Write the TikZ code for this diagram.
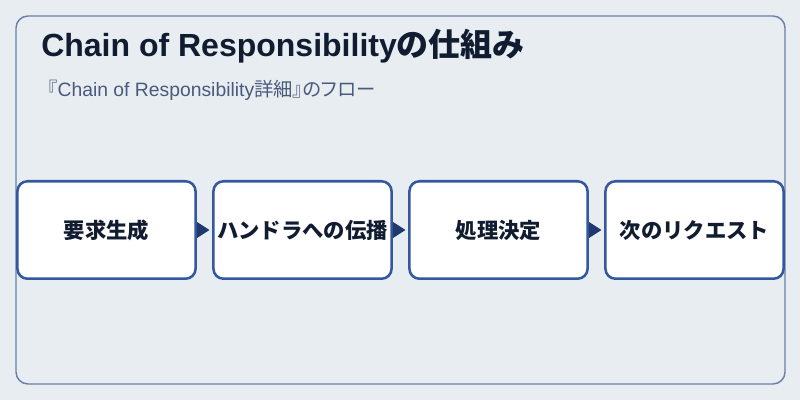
\documentclass[tikz,border=0pt]{standalone}
\usepackage{fontspec}
\setmainfont{Liberation Sans}
\newfontfamily\jpfont{Noto Sans CJK JP}
\newfontfamily\jppalt{Noto Sans CJK JP}[RawFeature=+palt]
\usetikzlibrary{positioning}
\usetikzlibrary{arrows.meta}
\definecolor{pagebg}{RGB}{232,237,242}
\definecolor{framec}{RGB}{104,127,170}
\definecolor{boxc}{RGB}{52,88,160}
\definecolor{arrowc}{RGB}{32,58,112}
\definecolor{titlec}{RGB}{17,28,48}
\definecolor{subc}{RGB}{74,90,122}

\begin{document}
\begin{tikzpicture}[x=0.75pt, y=0.75pt,
    stage/.style={draw=boxc, line width=1.9pt, fill=white, rounded corners=7.5pt, minimum width=133.6pt, minimum height=73.1pt, inner sep=0pt, font=\jpfont\bfseries\fontsize{16}{19}\selectfont, text=titlec},
    arrow/.style={-{Triangle[length=9.5pt, width=12pt]}, draw=arrowc, fill=arrowc, line width=0.8pt, shorten >=2pt},
    node distance=11.5pt,
]
\fill[pagebg] (0,0) rectangle (800,400);
\useasboundingbox (0,0) rectangle (800,400);
\draw[framec, line width=1.1pt, rounded corners=9pt] (16,16) rectangle (785,384);

\node[anchor=base west, inner sep=0pt, text=titlec, font=\bfseries\fontsize{24}{28}\selectfont] (title) at (41,343) {Chain of Responsibility{\jpfont の仕組み}};
\node[anchor=base west, inner sep=0pt, text=subc, font=\fontsize{14.5}{18}\selectfont] (subtitle) at (38,303) {{\jpfont 『}Chain of Responsibility{\jppalt 詳細』のフロー}};

\node[stage] (request) at (106.5,170) {要求生成};
\node[stage, right=of request] (propagate) {ハンドラへの伝播};
\node[stage, right=of propagate] (decide) {処理決定};
\node[stage, right=of decide] (nextreq) {次のリクエスト};

\draw[arrow] (request) -- (propagate);
\draw[arrow] (propagate) -- (decide);
\draw[arrow] (decide) -- (nextreq);
\end{tikzpicture}
\end{document}
